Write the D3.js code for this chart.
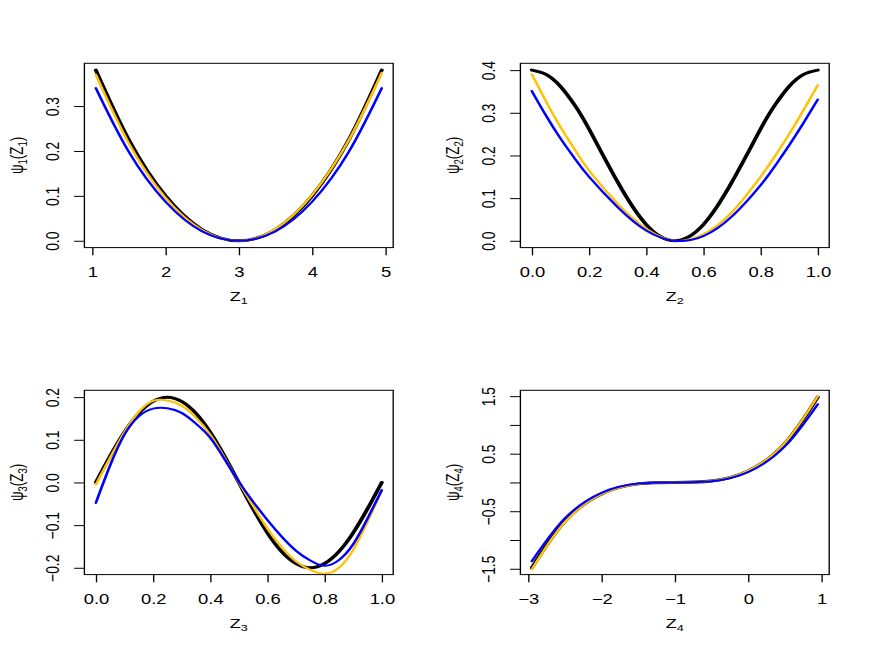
<!DOCTYPE html>
<html>
<head>
<meta charset="utf-8">
<script src="https://cdn.jsdelivr.net/npm/d3@7"></script>
<style>
  body { margin: 0; background: #fff; }
  svg { display: block; }
  text { font-family: "Liberation Sans", Arial, Helvetica, sans-serif; fill: #000; }
</style>
</head>
<body>
<svg id="chart"></svg>
<script>
// values, one x grid per panel
const z1 = [1.05, 1.5, 2, 2.5, 3, 3.5, 4, 4.5, 4.95];
const black1 = [0.380, 0.225, 0.100, 0.025, 0.000, 0.025, 0.100, 0.225, 0.380];
const gold1  = [0.370, 0.217, 0.096, 0.024, 0.000, 0.026, 0.102, 0.224, 0.374];
const blue1  = [0.340, 0.198, 0.087, 0.021, 0.000, 0.021, 0.087, 0.198, 0.340];

const z2 = [0, 0.05, 0.1, 0.15, 0.2, 0.3, 0.4, 0.5, 0.6, 0.7, 0.8, 0.85, 0.9, 0.95, 1.0];
const black2 = [0.400, 0.390, 0.362, 0.318, 0.262, 0.138, 0.038, 0.000, 0.038, 0.138, 0.262, 0.318, 0.362, 0.390, 0.400];
const gold2  = [0.390, 0.326, 0.267, 0.214, 0.165, 0.087, 0.028, 0.000, 0.015, 0.067, 0.150, 0.198, 0.250, 0.306, 0.365];
const blue2  = [0.351, 0.293, 0.240, 0.193, 0.150, 0.079, 0.024, 0.000, 0.011, 0.057, 0.130, 0.175, 0.224, 0.276, 0.331];

const z3 = [0, 0.05, 0.1, 0.15, 0.2, 0.25, 0.3, 0.35, 0.4, 0.45, 0.5, 0.55, 0.6, 0.65, 0.7, 0.75, 0.8, 0.85, 0.9, 0.95, 1.0];
const black3 = [0, 0.062, 0.118, 0.162, 0.190, 0.200, 0.190, 0.162, 0.118, 0.062, 0, -0.062, -0.118, -0.162, -0.190, -0.200, -0.190, -0.162, -0.118, -0.062, 0];
const gold3  = [-0.005, 0.058, 0.118, 0.165, 0.191, 0.192, 0.180, 0.152, 0.112, 0.058, 0, -0.055, -0.108, -0.152, -0.185, -0.205, -0.214, -0.200, -0.158, -0.092, -0.020];
const blue3  = [-0.048, 0.040, 0.112, 0.155, 0.173, 0.174, 0.163, 0.138, 0.105, 0.055, 0.002, -0.045, -0.088, -0.127, -0.160, -0.183, -0.195, -0.182, -0.145, -0.085, -0.018];

const z4 = [-2.95, -2.5, -2, -1.5, -1, -0.5, 0, 0.5, 0.95];
const black4 = [-1.483, -0.675, -0.200, -0.025, 0, 0.025, 0.200, 0.675, 1.483];
const gold4  = [-1.510, -0.690, -0.205, -0.025, 0, 0.025, 0.205, 0.685, 1.495];
const blue4  = [-1.370, -0.625, -0.180, -0.020, 0, 0.020, 0.180, 0.625, 1.360];

// tick values and labels
const xTicks1 = [1, 2, 3, 4, 5];
const xLabels1 = ['1', '2', '3', '4', '5'];
const yTicks1 = [0, 0.1, 0.2, 0.3];
const yLabels1 = ['0.0', '0.1', '0.2', '0.3'];

const xTicks2 = [0, 0.2, 0.4, 0.6, 0.8, 1.0];
const xLabels2 = ['0.0', '0.2', '0.4', '0.6', '0.8', '1.0'];
const yTicks2 = [0, 0.1, 0.2, 0.3, 0.4];
const yLabels2 = ['0.0', '0.1', '0.2', '0.3', '0.4'];

const xTicks3 = [0, 0.2, 0.4, 0.6, 0.8, 1.0];
const xLabels3 = ['0.0', '0.2', '0.4', '0.6', '0.8', '1.0'];
const yTicks3 = [-0.2, -0.1, 0, 0.1, 0.2];
const yLabels3 = ['\u22120.2', '\u22120.1', '0.0', '0.1', '0.2'];

const xTicks4 = [-3, -2, -1, 0, 1];
const xLabels4 = ['\u22123', '\u22122', '\u22121', '0', '1'];
const yTicks4 = [-1.5, -1, -0.5, 0, 0.5, 1, 1.5];
const yLabels4 = ['\u22121.5', '', '\u22120.5', '', '0.5', '', '1.5'];

const seriesColors = {black: '#000000', gold: '#FFC20A', blue: '#0000FF'};
const seriesWidths = {black: 3, gold: 2, blue: 2};

const panels = [
  {n: 1, z: z1, black: black1, gold: gold1, blue: blue1, xt: xTicks1, xl: xLabels1, yt: yTicks1, yl: yLabels1},
  {n: 2, z: z2, black: black2, gold: gold2, blue: blue2, xt: xTicks2, xl: xLabels2, yt: yTicks2, yl: yLabels2},
  {n: 3, z: z3, black: black3, gold: gold3, blue: blue3, xt: xTicks3, xl: xLabels3, yt: yTicks3, yl: yLabels3},
  {n: 4, z: z4, black: black4, gold: gold4, blue: blue4, xt: xTicks4, xl: xLabels4, yt: yTicks4, yl: yLabels4}
];

// the original is a square R device stretched to 872 wide, so draw square and stretch
const W = 872, H = 654, S = 654;
const cell = S / 2;
const box = {left: 63.3, right: 294.9, top: 63.3, bottom: 247.6};
const fs = 13.8;
const fsTitle = 13.5;
const tickLen = 7.7;

const svg = d3.select('#chart')
  .attr('width', W)
  .attr('height', H)
  .attr('viewBox', `0 0 ${S} ${S}`)
  .attr('preserveAspectRatio', 'none');

svg.append('rect').attr('width', S).attr('height', S).attr('fill', '#fff');

function pad(ext) {
  const p = (ext[1] - ext[0]) * 0.04;
  return [ext[0] - p, ext[1] + p];
}

panels.forEach((p, i) => {
  const col = i % 2, row = Math.floor(i / 2);
  const g = svg.append('g').attr('transform', `translate(${col * cell},${row * cell})`);

  const x = d3.scaleLinear().domain(pad(d3.extent(p.z))).range([box.left, box.right]);
  const y = d3.scaleLinear().domain(pad(d3.extent(p.black))).range([box.bottom, box.top]);

  g.append('clipPath').attr('id', 'clip' + p.n)
    .append('rect')
    .attr('x', box.left).attr('y', box.top)
    .attr('width', box.right - box.left).attr('height', box.bottom - box.top);

  const line = d3.line()
    .x(d => x(d[0]))
    .y(d => y(d[1]))
    .curve(d3.curveNatural);

  ['black', 'gold', 'blue'].forEach(key => {
    g.append('path')
      .datum(p.z.map((v, j) => [v, p[key][j]]))
      .attr('clip-path', `url(#clip${p.n})`)
      .attr('d', line)
      .attr('fill', 'none')
      .attr('stroke', seriesColors[key])
      .attr('stroke-width', seriesWidths[key])
      .attr('stroke-linejoin', 'round')
      .attr('stroke-linecap', 'round');
  });

  // box
  g.append('rect')
    .attr('x', box.left).attr('y', box.top)
    .attr('width', box.right - box.left).attr('height', box.bottom - box.top)
    .attr('fill', 'none').attr('stroke', '#000').attr('stroke-width', 1);

  // x axis
  const xa = g.append('g')
    .attr('transform', `translate(0,${box.bottom})`)
    .call(d3.axisBottom(x).tickValues(p.xt).tickFormat((d, j) => p.xl[j]).tickSize(tickLen).tickSizeOuter(0));
  xa.select('.domain').remove();
  xa.attr('font-size', null).attr('font-family', null);
  xa.selectAll('line').attr('stroke', '#000').attr('stroke-width', 1);
  xa.selectAll('text')
    .attr('y', 29).attr('dy', null)
    .attr('font-size', fs)
    .attr('fill', '#000');

  // y axis
  const ya = g.append('g')
    .attr('transform', `translate(${box.left},0)`)
    .call(d3.axisLeft(y).tickValues(p.yt).tickFormat((d, j) => p.yl[j]).tickSize(tickLen).tickSizeOuter(0));
  ya.select('.domain').remove();
  ya.attr('font-size', null).attr('font-family', null);
  ya.selectAll('line').attr('stroke', '#000').attr('stroke-width', 1);
  ya.selectAll('text')
    .attr('x', null).attr('dy', null)
    .attr('transform', 'translate(-18.7,0) rotate(-90)')
    .attr('text-anchor', 'middle')
    .attr('font-size', fs)
    .attr('fill', '#000');

  // axis titles
  const sub = String(p.n);
  const xt = g.append('text')
    .attr('x', (box.left + box.right) / 2)
    .attr('y', box.bottom + 53.5)
    .attr('text-anchor', 'middle')
    .attr('font-size', fsTitle);
  xt.append('tspan').text('Z');
  xt.append('tspan').attr('font-size', fsTitle * 0.7).attr('dy', 3).text(sub);

  const yt = g.append('text')
    .attr('transform', `translate(${box.left - 46},${(box.top + box.bottom) / 2}) rotate(-90)`)
    .attr('text-anchor', 'middle')
    .attr('font-size', fsTitle);
  yt.append('tspan').text('\u03C8');
  yt.append('tspan').attr('font-size', fsTitle * 0.7).attr('dy', 3).text(sub);
  yt.append('tspan').attr('dy', -3).text('(Z');
  yt.append('tspan').attr('font-size', fsTitle * 0.7).attr('dy', 3).text(sub);
  yt.append('tspan').attr('dy', -3).text(')');
});
</script>
</body>
</html>
